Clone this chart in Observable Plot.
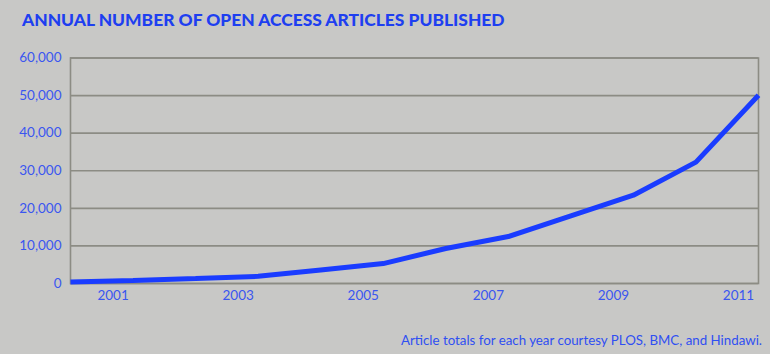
<!DOCTYPE html>
<html>
<head>
<meta charset="utf-8">
<script src="https://cdn.jsdelivr.net/npm/d3@7"></script>
<script src="https://cdn.jsdelivr.net/npm/@observablehq/plot@0.6"></script>
<style>
  html, body { margin: 0; padding: 0; background: #c8c8c6; }
  #wrap { width: 770px; height: 354px; position: relative; overflow: hidden; background: #c8c8c6; font-family: Lato, "Open Sans", sans-serif; }
  #title { position: absolute; left: 22px; top: 9px; margin: 0; font-size: 17.4px; font-weight: 900; color: #1e3ff0; white-space: nowrap; }
  #chart { position: absolute; left: 0; top: 40px; }
  #caption { position: absolute; right: 8px; top: 332px; font-size: 13.3px; color: #2f4ff2; white-space: nowrap; }
</style>
</head>
<body>
<div id="wrap">
  <h2 id="title">ANNUAL NUMBER OF OPEN ACCESS ARTICLES PUBLISHED</h2>
  <div id="chart"></div>
  <div id="caption">Article totals for each year courtesy PLOS, BMC, and Hindawi.</div>
</div>
<script>
const years = [2000, 2001, 2002, 2003, 2004, 2005, 2006, 2007, 2008, 2009, 2010, 2011];
const articles = [400, 800, 1300, 1900, 3600, 5300, 9300, 12500, 18000, 23500, 32300, 50100];
const xTickYears = [2001, 2003, 2005, 2007, 2009, 2011];
const yTickValues = [0, 10000, 20000, 30000, 40000, 50000, 60000];

const data = years.map((year, i) => ({year, articles: articles[i]}));

const gridColor = "#8c8c84";
const labelColor = "#3a56f0";

const chart = Plot.plot({
  width: 770,
  height: 272,
  marginLeft: 70,
  marginRight: 12,
  marginTop: 17.5,
  marginBottom: 29,
  style: {background: "transparent", fontFamily: "Lato, 'Open Sans', sans-serif", fontSize: "13.5px", color: labelColor},
  x: {domain: [2000, 2011]},
  y: {domain: [0, 60000]},
  marks: [
    Plot.gridY(yTickValues, {stroke: gridColor, strokeOpacity: 1, strokeWidth: 1.6}),
    Plot.frame({stroke: gridColor, strokeWidth: 1.6}),
    Plot.axisY(yTickValues, {tickSize: 0, tickPadding: 9, tickFormat: d3.format(","), label: null, fill: labelColor}),
    Plot.axisX(xTickYears, {tickSize: 0, tickPadding: 7, tickFormat: d => String(d), label: null, dx: -20, fill: labelColor}),
    Plot.line(data, {x: "year", y: "articles", stroke: "#1a3cff", strokeWidth: 5, strokeLinejoin: "miter", strokeLinecap: "butt"})
  ]
});
document.getElementById("chart").appendChild(chart);
</script>
</body>
</html>
